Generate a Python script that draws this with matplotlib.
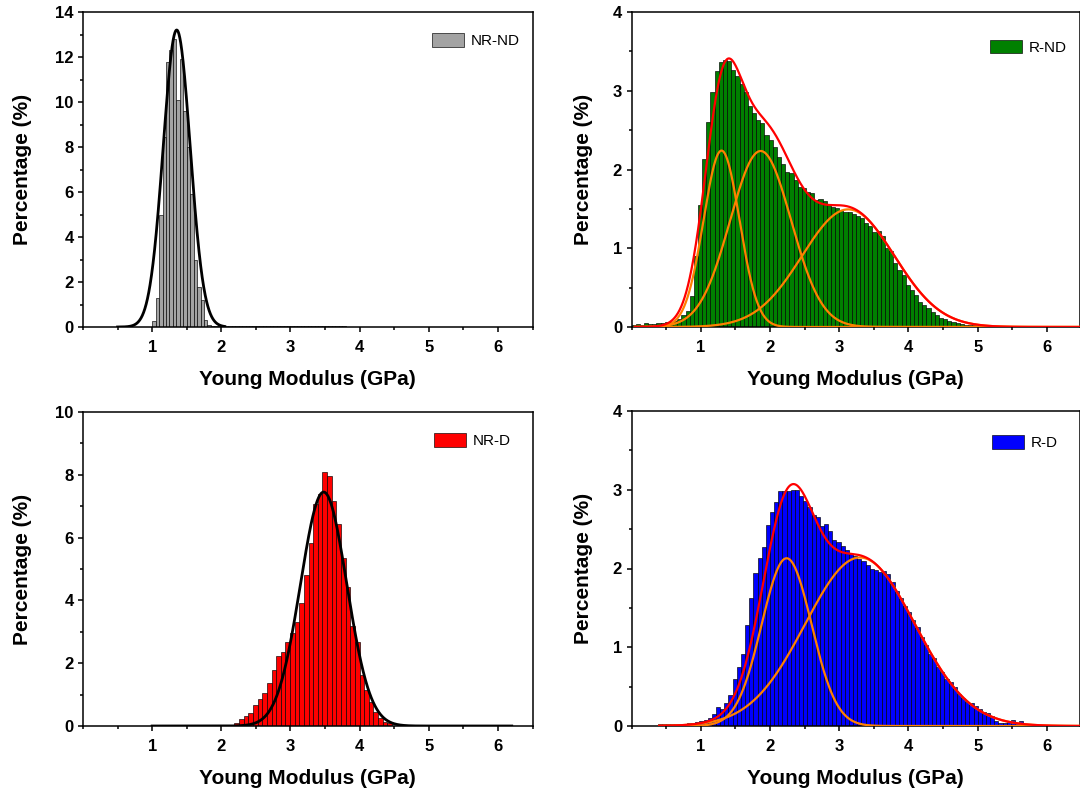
import numpy as np
import matplotlib
matplotlib.use('Agg')
import matplotlib.pyplot as plt
from matplotlib.ticker import MultipleLocator, FixedLocator

plt.rcParams['font.family'] = ['Liberation Sans', 'DejaVu Sans']

# ---------------- data ----------------
# NR-ND histogram (bin width 0.05 GPa, first bin starts at 1.00 GPa)
nrnd_start = 1.00
nrnd_width = 0.05
nrnd_values = [0.25, 1.3, 5.0, 8.45, 11.8, 12.3, 12.8, 10.1, 11.9, 9.6,
               8.0, 5.9, 3.0, 1.8, 1.2, 0.3, 0.1, 0.05, 0.04, 0.03,
               0.04, 0.03, 0.03, 0.04, 0.03, 0.03, 0.04, 0.03, 0.03, 0.04,
               0.03, 0.03, 0.04, 0.03, 0.03, 0.04, 0.03, 0.03, 0.04, 0.03,
               0.03, 0.03, 0.03, 0.03, 0.03, 0.03, 0.03, 0.03, 0.03, 0.03,
               0.03, 0.03, 0.03, 0.03, 0.03, 0.03]
nrnd_fit = [(1.355, 13.2, 0.195)]          # (centre, height, sigma)

# R-ND histogram (bin width 0.06 GPa, first bin starts at 0.00 GPa)
rnd_start = 0.00
rnd_width = 0.06
rnd_values = [0.03, 0.04, 0.03, 0.05, 0.04, 0.04, 0.05, 0.05, 0.06, 0.06,
              0.07, 0.10, 0.15, 0.20, 0.40, 0.90, 1.55, 2.13, 2.60, 2.98,
              3.25, 3.37, 3.39, 3.38, 3.26, 3.19, 3.08, 2.99, 2.81, 2.72,
              2.63, 2.59, 2.44, 2.38, 2.29, 2.16, 2.07, 1.97, 1.95, 1.87,
              1.78, 1.77, 1.72, 1.70, 1.61, 1.62, 1.60, 1.55, 1.53, 1.51,
              1.48, 1.46, 1.46, 1.44, 1.41, 1.38, 1.32, 1.28, 1.21, 1.22,
              1.15, 1.00, 0.97, 0.81, 0.72, 0.66, 0.53, 0.47, 0.41, 0.32,
              0.28, 0.24, 0.19, 0.15, 0.12, 0.10, 0.08, 0.06, 0.05, 0.04,
              0.03, 0.03, 0.02, 0.02, 0.01, 0.01]
rnd_fit = [(1.30, 2.24, 0.26), (1.865, 2.235, 0.44), (3.13, 1.494, 0.665)]

# NR-D histogram (bin width 0.067 GPa, first bin starts at 2.19 GPa)
nrd_start = 2.19
nrd_width = 0.067
nrd_values = [0.085, 0.21, 0.33, 0.42, 0.67, 0.86, 1.06, 1.36, 1.78, 2.23,
              2.37, 2.68, 2.95, 3.32, 3.91, 4.81, 5.82, 7.07, 7.40, 8.08,
              7.96, 7.16, 6.43, 5.34, 4.44, 3.19, 2.66, 1.62, 1.15, 0.77,
              0.43, 0.24, 0.13, 0.08]
nrd_fit = [(3.48, 7.45, 0.335)]

# R-D histogram (bin width 0.06 GPa, first bin starts at 0.38 GPa)
rd_start = 0.38
rd_width = 0.06
rd_values = [0.02, 0.02, 0.02, 0.02, 0.02, 0.03, 0.03, 0.04, 0.04, 0.05,
             0.06, 0.08, 0.10, 0.15, 0.24, 0.22, 0.29, 0.40, 0.60, 0.75,
             0.92, 1.28, 1.62, 1.94, 2.13, 2.27, 2.55, 2.72, 2.85, 2.98,
             2.99, 2.99, 3.00, 3.00, 2.92, 2.86, 2.78, 2.68, 2.66, 2.54,
             2.57, 2.48, 2.36, 2.34, 2.29, 2.24, 2.19, 2.16, 2.12, 2.09,
             2.04, 2.00, 1.98, 1.96, 1.97, 1.93, 1.83, 1.72, 1.62, 1.53,
             1.45, 1.35, 1.26, 1.13, 1.03, 0.92, 0.86, 0.75, 0.69, 0.60,
             0.56, 0.49, 0.41, 0.35, 0.31, 0.29, 0.25, 0.22, 0.18, 0.17,
             0.13, 0.06, 0.04, 0.04, 0.06, 0.08, 0.04, 0.06, 0.03, 0.02,
             0.02, 0.01, 0.01, 0.01]
rd_fit = [(2.24, 2.13, 0.36), (3.30, 2.14, 0.79)]

x_ticks = [1, 2, 3, 4, 5, 6]
xlabel = 'Young Modulus (GPa)'
ylabel = 'Percentage (%)'

# ---------------- figure ----------------
W, H = 1080, 796
fig = plt.figure(figsize=(W / 100, H / 100), dpi=100)


def px_axes(x0, y0, x1, y1):
    return fig.add_axes([x0 / W, 1 - y1 / H, (x1 - x0) / W, (y1 - y0) / H])


def gauss(x, c, a, s):
    return a * np.exp(-(x - c) ** 2 / (2 * s ** 2))


def style(ax, xmax, ymax, ymaj, ymin, ylab_x, leg_anchor):
    ax.set_xlim(0, xmax)
    ax.set_ylim(0, ymax)
    ax.xaxis.set_major_locator(FixedLocator(x_ticks))
    ax.xaxis.set_minor_locator(MultipleLocator(0.5))
    ax.yaxis.set_major_locator(MultipleLocator(ymaj))
    ax.yaxis.set_minor_locator(MultipleLocator(ymin))
    for sp in ax.spines.values():
        sp.set_linewidth(1.1)
    ax.tick_params(which='major', direction='out', length=3.8, width=1.1,
                   labelsize=12)
    ax.tick_params(axis='x', which='major', pad=5.5)
    ax.tick_params(axis='y', which='major', pad=3)
    ax.tick_params(which='minor', direction='out', length=2.2, width=1.1)
    for lab in ax.get_xticklabels() + ax.get_yticklabels():
        lab.set_fontweight('bold')
    ax.set_xlabel(xlabel, fontsize=15, fontweight='bold', labelpad=11)
    ax.set_ylabel(ylabel, fontsize=15, fontweight='bold')
    ax.yaxis.set_label_coords(ylab_x, 0.5)
    ax.legend(loc='upper right', bbox_to_anchor=leg_anchor, frameon=False,
              fontsize=11, handlelength=2.1, handleheight=1.0,
              handletextpad=0.45, borderpad=0, borderaxespad=0)


def hist(ax, start, width, values, color, label):
    edges = start + width * np.arange(len(values))
    ax.bar(edges, values, width=width, align='edge', color=color,
           edgecolor='black', linewidth=0.45, label=label, zorder=2)


# top-left: NR-ND
ax1 = px_axes(83, 12, 532.5, 327)
hist(ax1, nrnd_start, nrnd_width, nrnd_values, '#A3A3A3', 'NR-ND')
xs = np.linspace(0.5, 2.05, 500)
ax1.plot(xs, sum(gauss(xs, *p) for p in nrnd_fit), color='black', lw=2.0, zorder=3)
style(ax1, 6.5, 14, 2, 1, -0.113, (0.972, 0.933))

# top-right: R-ND
ax2 = px_axes(631.5, 12, 1079.5, 327)
hist(ax2, rnd_start, rnd_width, rnd_values, '#008000', 'R-ND')
xs = np.linspace(0.05, 6.5, 800)
for p in rnd_fit:
    ax2.plot(xs, gauss(xs, *p), color='#FF8000', lw=1.6, zorder=3)
ax2.plot(xs, sum(gauss(xs, *p) for p in rnd_fit), color='#FF0000', lw=1.6, zorder=4)
style(ax2, 6.47, 4, 1, 0.5, -0.086, (0.972, 0.912))

# bottom-left: NR-D
ax3 = px_axes(83, 412, 532.5, 726)
hist(ax3, nrd_start, nrd_width, nrd_values, '#FF0000', 'NR-D')
xs = np.linspace(1.0, 6.2, 800)
ax3.plot(xs, sum(gauss(xs, *p) for p in nrd_fit), color='black', lw=2.0, zorder=3)
style(ax3, 6.5, 10, 2, 1, -0.113, (0.952, 0.933))

# bottom-right: R-D
ax4 = px_axes(631.5, 411, 1079.5, 726)
hist(ax4, rd_start, rd_width, rd_values, '#0000FF', 'R-D')
xs = np.linspace(0.4, 6.5, 800)
for p in rd_fit:
    ax4.plot(xs, gauss(xs, *p), color='#FF8000', lw=1.6, zorder=3)
ax4.plot(xs, sum(gauss(xs, *p) for p in rd_fit), color='#FF0000', lw=1.6, zorder=4)
style(ax4, 6.47, 4, 1, 0.5, -0.086, (0.952, 0.924))

fig.savefig('out.png', dpi=100)
